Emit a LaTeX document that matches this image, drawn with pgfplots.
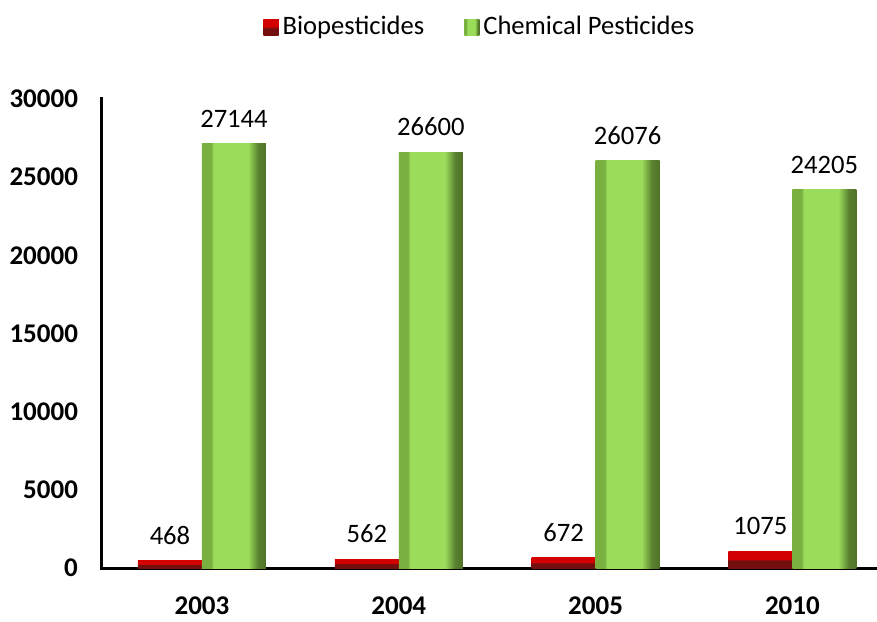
\documentclass[border=0pt]{standalone}
\usepackage{fontspec}
\setmainfont{Carlito}
\usepackage{pgfplots}
\pgfplotsset{compat=1.18}
\definecolor{gmain}{RGB}{155,220,90}
\definecolor{gleft}{RGB}{122,176,64}
\definecolor{gright}{RGB}{88,128,46}
\definecolor{gdark}{RGB}{80,115,40}
\definecolor{rtop}{RGB}{210,0,0}
\definecolor{rbot}{RGB}{115,15,15}
\pgfdeclarehorizontalshading{greenbar}{100bp}{color(0bp)=(gleft); color(25bp)=(gleft); color(32bp)=(gleft); color(34bp)=(gmain); color(61bp)=(gmain); color(69bp)=(gright); color(75bp)=(gdark); color(100bp)=(gdark)}
\pgfdeclareverticalshading{redbar}{100bp}{color(0bp)=(rbot); color(25bp)=(rbot); color(47bp)=(rbot); color(52bp)=(rtop); color(75bp)=(rtop); color(100bp)=(rtop)}
\pgfplotsset{
  redstyle/.style={bar shift=-16pt, draw=none, shading=redbar},
  greenstyle/.style={bar shift=16pt, draw=none, shading=greenbar},
}
\begin{document}
\begin{tikzpicture}
\path[use as bounding box] (-51pt,-26.5pt) rectangle (387.5pt,284pt);
\begin{axis}[
  at={(0pt,0pt)}, anchor=south west,
  scale only axis, width=387.5pt, height=234.5pt,
  xmin=-0.508, xmax=3.43, ymin=0, ymax=30000,
  axis x line*=bottom, axis y line*=left,
  axis line style={line width=1.5pt, line cap=rect},
  xtick={0,1,2,3}, xticklabels={2003,2004,2005,2010},
  ytick={0,5000,10000,15000,20000,25000,30000},
  scaled y ticks=false,
  major tick length=0pt,
  /pgf/number format/assume math mode=true,
  /pgf/number format/1000 sep={},
  tick label style={font=\bfseries\fontsize{13.5}{15}\selectfont},
  yticklabel style={xshift=-8.5pt},
  xticklabel style={yshift=-11pt},
  ybar, bar width=32pt,
  nodes near coords,
  nodes near coords style={font=\fontsize{13.3}{15}\selectfont, /pgf/number format/1000 sep={}, /pgf/number format/assume math mode=true, yshift=4.5pt, text=black},
  legend style={at={(0.489,1.153)}, anchor=center, draw=none, legend columns=2,
    font=\fontsize{13.3}{15}\selectfont,
    /tikz/every even column/.append style={column sep=18pt}},
]
\addplot[redstyle,
  legend image code/.code={\fill[rbot] (0pt,-4pt) rectangle (7.5pt,4pt); \fill[rtop] (0pt,-4pt) -- (0pt,4pt) -- (7.5pt,4pt) -- cycle;}]
  coordinates {(0,468)};
\addlegendentry{Biopesticides}
\addplot[greenstyle,
  legend image code/.code={\fill[gright] (0pt,-4pt) rectangle (7.5pt,4pt); \fill[gmain] (0pt,-4pt) -- (0pt,4pt) -- (7.5pt,4pt) -- cycle;}]
  coordinates {(0,27144)};
\addlegendentry{Chemical Pesticides}
\addplot[redstyle, forget plot] coordinates {(1,562)};
\addplot[redstyle, forget plot] coordinates {(2,672)};
\addplot[redstyle, forget plot] coordinates {(3,1075)};
\addplot[greenstyle, forget plot] coordinates {(1,26600)};
\addplot[greenstyle, forget plot] coordinates {(2,26076)};
\addplot[greenstyle, forget plot] coordinates {(3,24205)};
\end{axis}
\end{tikzpicture}
\end{document}
